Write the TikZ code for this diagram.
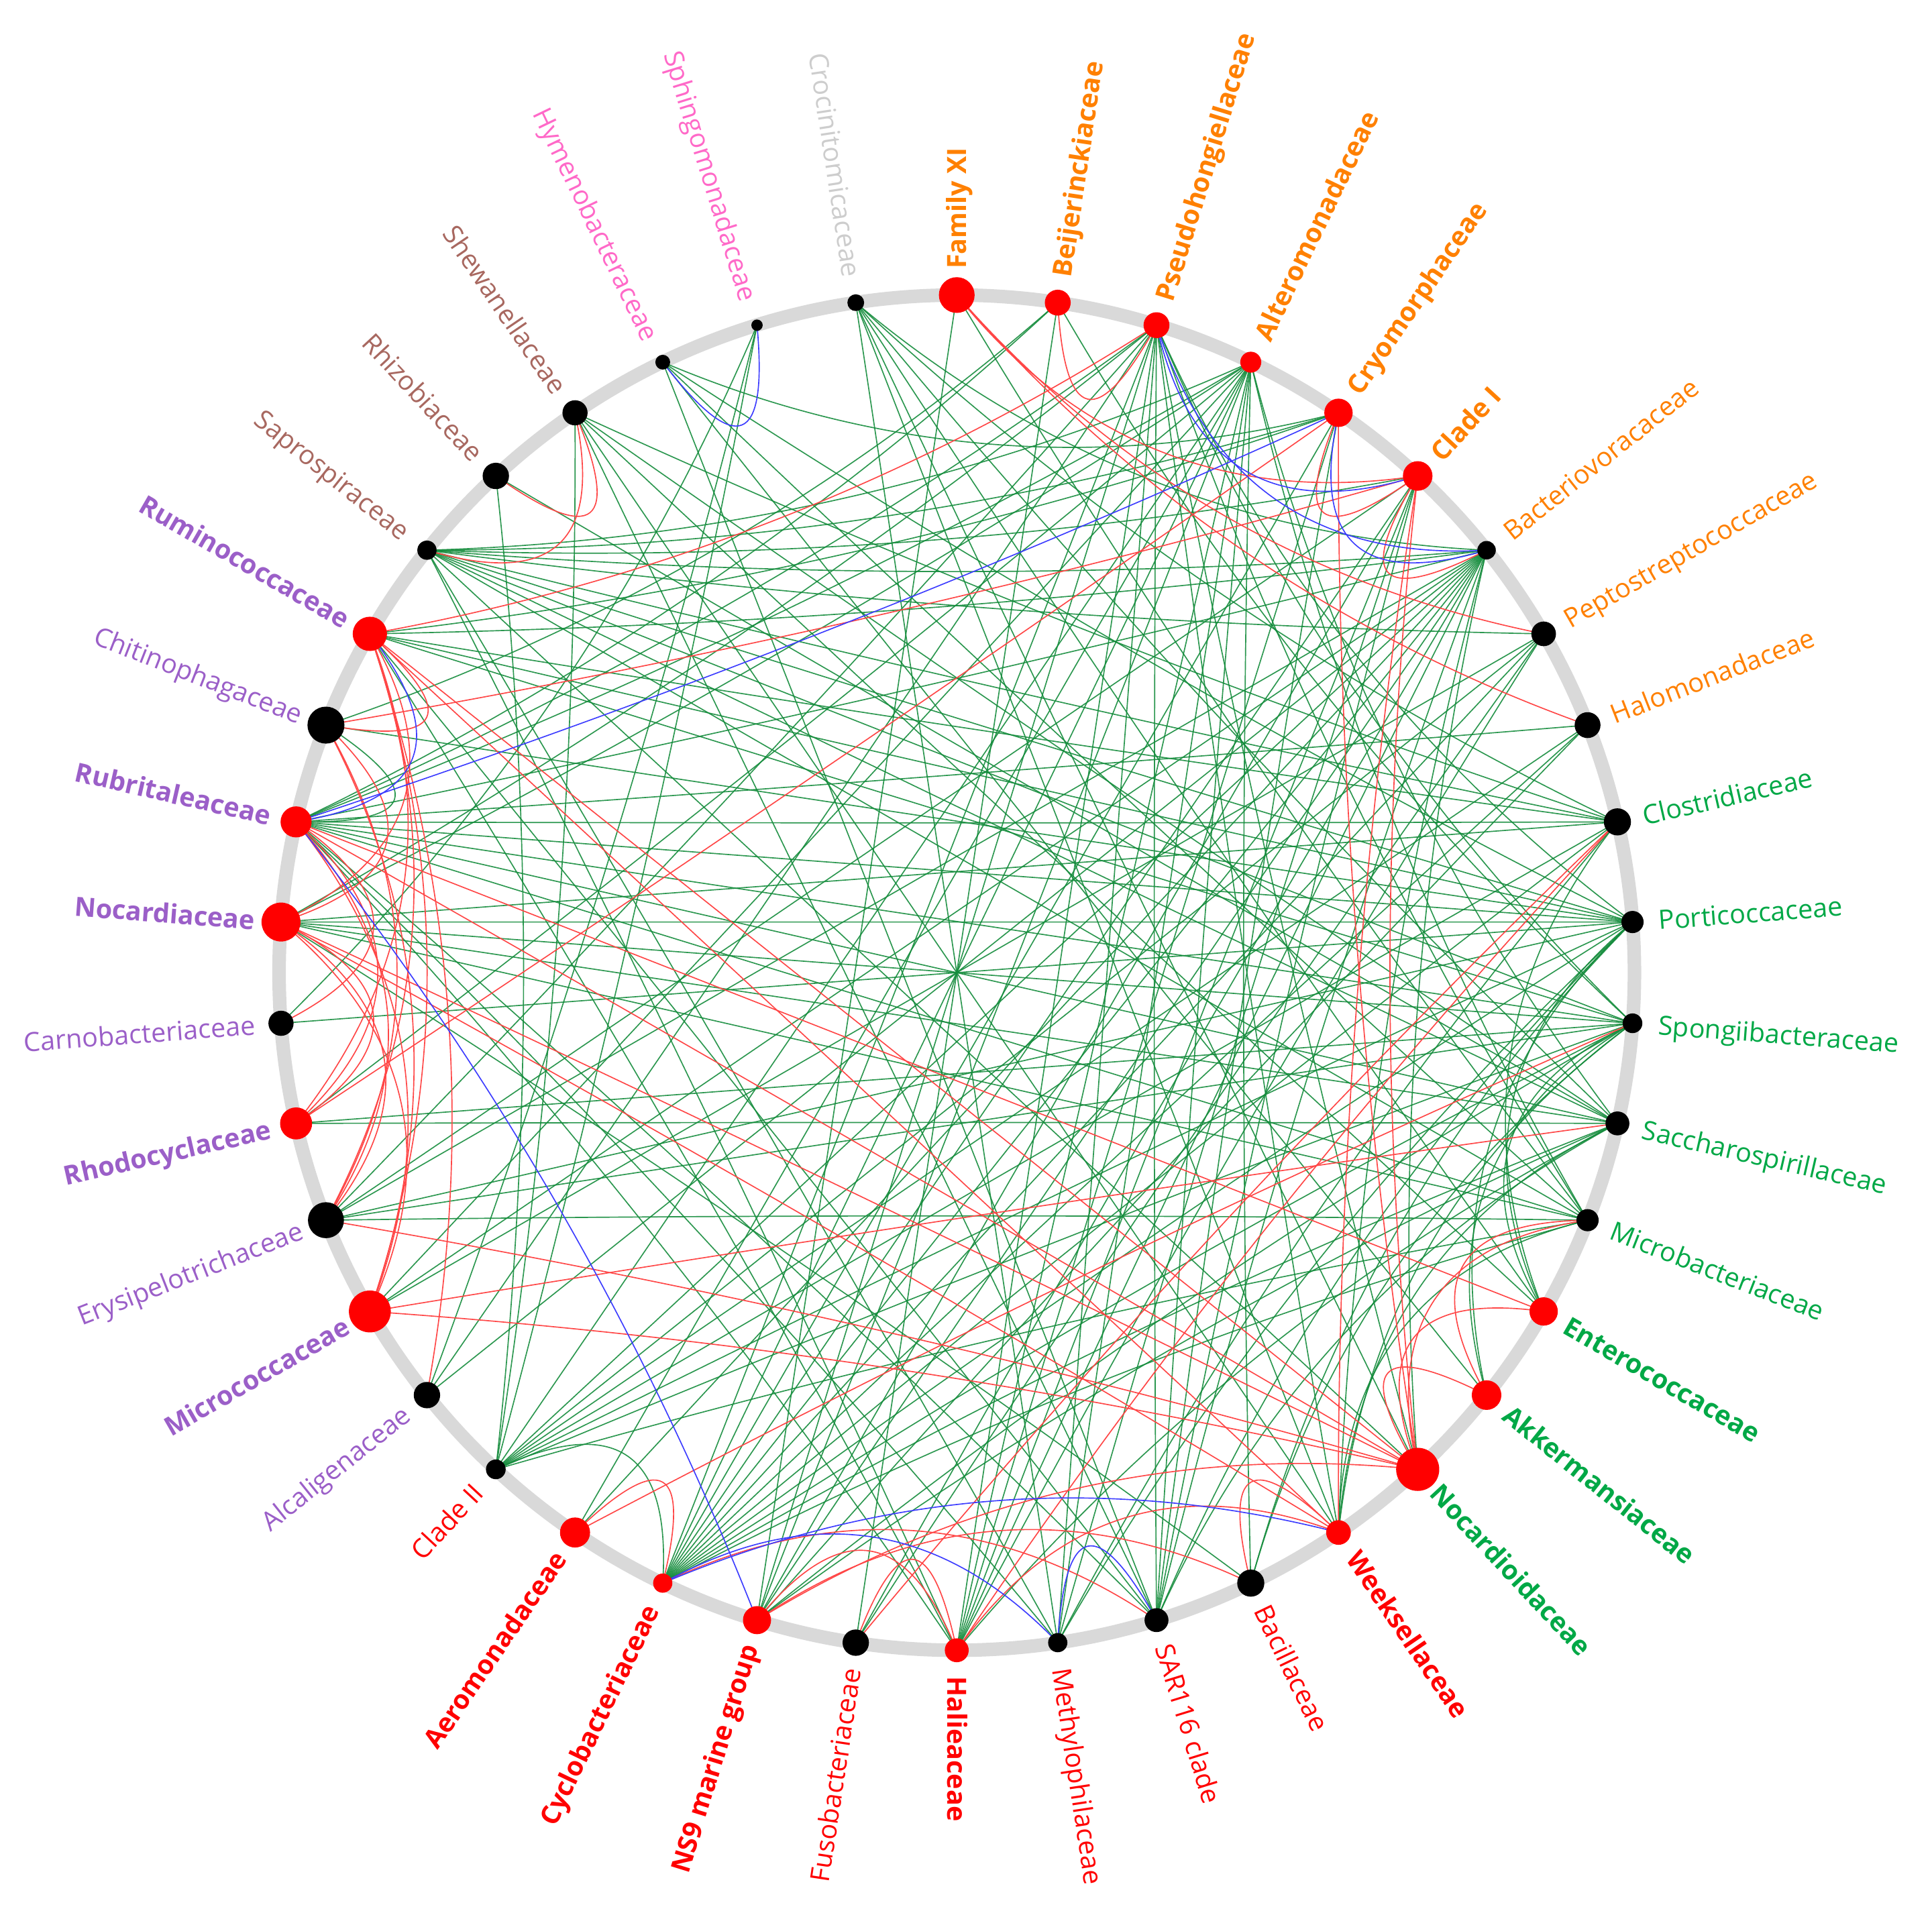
\documentclass[tikz,border=0pt]{standalone}
\usepackage{fontspec}
\setmainfont{Open Sans}
\usetikzlibrary{calc}
\definecolor{ringgray}{RGB}{217,217,217}
\definecolor{nred}{RGB}{255,0,0}
\definecolor{egreen}{RGB}{20,140,60}
\definecolor{ered}{RGB}{255,70,70}
\definecolor{eblue}{RGB}{60,60,255}
\definecolor{lorange}{RGB}{255,128,0}
\definecolor{lgreen}{RGB}{0,168,70}
\definecolor{lred}{RGB}{255,0,0}
\definecolor{lpurple}{RGB}{155,95,200}
\definecolor{lbrown}{RGB}{168,104,96}
\definecolor{lpink}{RGB}{255,105,200}
\definecolor{lgray}{RGB}{205,205,205}
\tikzset{
  edgeG/.style={draw=egreen, line width=0.9pt, draw opacity=0.9},
  edgeR/.style={draw=ered, line width=0.9pt},
  edgeB/.style={draw=eblue, line width=0.9pt},
  vnode/.style={circle, inner sep=0pt, draw=none},
  lbl/.style={inner sep=0pt, text height=15.4pt, text depth=0pt, font=\fontsize{21.5}{26}\selectfont}
}
\begin{document}
\begin{tikzpicture}[x=1pt,y=1pt]
\useasboundingbox (-776.5,-764.5) rectangle (791.5,789.5);
\fill[white] (-776.5,-764.5) rectangle (791.5,789.5);
\def\R{550}
\foreach \i in {0,...,41}{\coordinate (n\i) at ({90-\i*360/42}:\R);}
\draw[ringgray, line width=11pt] (0,0) circle (\R);
% edges
\foreach \ea/\eb/\ec in {
0/23/G,0/13/G,
1/34/G,1/33/G,1/22/G,1/11/G,
2/13/G,2/16/G,2/17/G,2/19/G,2/20/G,2/21/G,2/23/G,2/24/G,2/29/G,2/32/G,2/33/G,2/11/G,2/10/G,2/27/G,
3/36/G,3/33/G,3/32/G,3/18/G,3/19/G,3/20/G,3/21/G,3/23/G,3/24/G,3/25/G,3/26/G,3/13/G,3/12/G,3/28/G,3/30/G,
4/36/G,4/35/G,4/24/G,4/21/G,4/19/G,4/39/G,
5/24/G,5/21/G,5/19/G,5/23/G,5/29/G,5/36/G,
6/36/G,6/35/G,6/16/G,6/17/G,6/21/G,6/22/G,6/23/G,6/24/G,6/25/G,6/26/G,6/27/G,6/28/G,6/29/G,6/19/G,6/33/G,6/41/G,
7/36/G,7/26/G,7/24/G,7/28/G,7/22/G,
8/26/G,8/24/G,8/23/G,8/33/G,
9/33/G,9/32/G,9/36/G,9/35/G,9/24/G,9/26/G,9/38/G,9/41/G,9/20/G,
10/32/G,10/33/G,10/35/G,10/36/G,10/34/G,10/31/G,10/24/G,10/26/G,10/20/G,10/18/G,10/39/G,10/29/G,10/14/G,10/15/G,10/19/G,
11/32/G,11/33/G,11/35/G,11/36/G,11/30/G,11/24/G,11/23/G,11/26/G,11/18/G,11/17/G,11/15/G,11/14/G,11/29/G,
12/30/G,12/33/G,12/32/G,12/36/G,12/24/G,12/23/G,12/21/G,12/17/G,12/38/G,12/19/G,12/37/G,12/41/G,
13/29/G,13/33/G,13/32/G,13/26/G,13/24/G,13/36/G,13/39/G,13/17/G,
14/38/G,14/41/G,14/9/G,15/39/G,16/36/G,16/41/G,17/41/G,17/38/G,18/32/G,
19/35/G,19/33/G,19/39/G,19/38/G,20/41/G,20/5/G,20/36/G,20/33/G,
21/7/G,21/36/G,21/35/G,21/33/G,26/38/G,26/37/G,26/24/G,27/40/G,31/40/G,33/34/G,40/26/G,
0/5/R,0/7/R,0/8/R,1/2/R,2/35/R,4/5/R,4/16/R,4/30/R,5/16/R,5/6/R,5/34/R,5/17/R,
9/21/R,9/22/R,11/25/R,12/28/R,13/15/R,13/16/R,14/33/R,14/16/R,15/16/R,
16/28/R,16/29/R,16/32/R,16/33/R,16/35/R,16/23/R,17/18/R,17/32/R,17/35/R,17/21/R,
18/23/R,19/24/R,21/22/R,21/23/R,24/25/R,27/35/R,
28/35/R,28/33/R,28/32/R,28/34/R,29/33/R,29/32/R,29/35/R,29/34/R,
30/32/R,30/33/R,30/35/R,31/33/R,32/35/R,32/34/R,34/35/R,36/38/R,37/38/R,
2/5/B,2/6/B,4/33/B,4/6/B,17/24/B,19/20/B,20/24/B,23/33/B,33/35/B,39/40/B}{
  \pgfmathsetmacro\cpF{0.0867*(1+cos(360/42*(\ea-\eb)))}
  \pgfmathsetmacro\cpA{2/3-\cpF/2}
  \pgfmathsetmacro\cpB{1/3-\cpF/2}
  \draw[edge\ec] (n\ea) .. controls ($\cpA*(n\ea)+\cpB*(n\eb)$) and ($\cpB*(n\ea)+\cpA*(n\eb)$) .. (n\eb);
}
% nodes
\foreach \i/\s/\col in {0/14.5/nred,1/10.5/nred,2/10.5/nred,3/8.5/nred,4/11.5/nred,5/12/nred,6/7.5/black,7/10/black,8/10.5/black,9/11/black,10/9/black,11/8/black,12/9.7/black,13/9/black,14/11.5/nred,15/12/nred,16/17.5/nred,17/10/nred,18/11/black,19/9.7/black,20/7.8/black,21/9.7/nred,22/10.7/black,23/11.4/nred,24/7.8/nred,25/12.2/nred,26/8/black,27/10.7/black,28/17/nred,29/14.6/black,30/13/nred,31/10.2/black,32/15.8/nred,33/12.6/nred,34/15/black,35/13.9/nred,36/7.8/black,37/10.7/black,38/10.2/black,39/6/black,40/4.6/black,41/6.8/black}{
  \node[vnode, fill=\col, minimum size=2*\s] (v\i) at (n\i) {};
}
% labels
\foreach \i/\txt/\lc/\wt in {0/Family XI/lorange/1,1/Beijerinckiaceae/lorange/1,2/Pseudohongiellaceae/lorange/1,3/Alteromonadaceae/lorange/1,4/Cryomorphaceae/lorange/1,5/Clade I/lorange/1,6/Bacteriovoracaceae/lorange/0,7/Peptostreptococcaceae/lorange/0,8/Halomonadaceae/lorange/0,9/Clostridiaceae/lgreen/0,10/Porticoccaceae/lgreen/0,11/Spongiibacteraceae/lgreen/0,12/Saccharospirillaceae/lgreen/0,13/Microbacteriaceae/lgreen/0,14/Enterococcaceae/lgreen/1,15/Akkermansiaceae/lgreen/1,16/Nocardioidaceae/lgreen/1,17/Weeksellaceae/lred/1,18/Bacillaceae/lred/0,19/SAR116 clade/lred/0,20/Methylophilaceae/lred/0,21/Halieaceae/lred/1,22/Fusobacteriaceae/lred/0,23/NS9 marine group/lred/1,24/Cyclobacteriaceae/lred/1,25/Aeromonadaceae/lred/1,26/Clade II/lred/0,27/Alcaligenaceae/lpurple/0,28/Micrococcaceae/lpurple/1,29/Erysipelotrichaceae/lpurple/0,30/Rhodocyclaceae/lpurple/1,31/Carnobacteriaceae/lpurple/0,32/Nocardiaceae/lpurple/1,33/Rubritaleaceae/lpurple/1,34/Chitinophagaceae/lpurple/0,35/Ruminococcaceae/lpurple/1,36/Saprospiraceae/lbrown/0,37/Rhizobiaceae/lbrown/0,38/Shewanellaceae/lbrown/0,39/Hymenobacteraceae/lpink/0,40/Sphingomonadaceae/lpink/0,41/Crocinitomicaceae/lgray/0}{
  \pgfmathsetmacro\ang{90-\i*360/42}
  \ifnum\i<22
    \node[lbl, text=\lc, rotate=\ang, anchor=west] (t\i) at (\ang:571) {\ifnum\wt=1\bfseries\fi\txt};
  \else
    \node[lbl, text=\lc, rotate=\ang+180, anchor=east] (t\i) at (\ang:571) {\ifnum\wt=1\bfseries\fi\txt};
  \fi
}
\end{tikzpicture}
\end{document}
